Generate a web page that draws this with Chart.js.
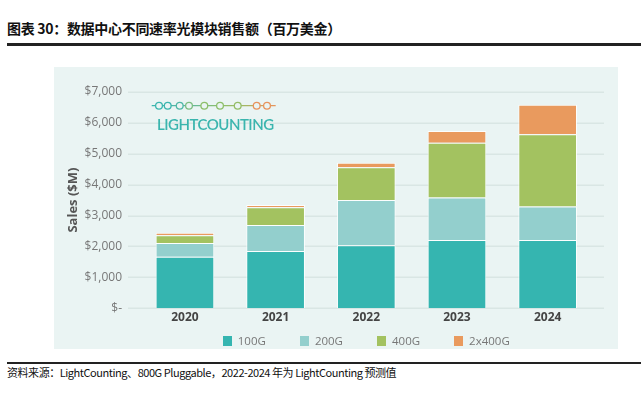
<!DOCTYPE html>
<html>
<head>
<meta charset="utf-8">
<script src="https://cdn.jsdelivr.net/npm/chart.js@4.4.0/dist/chart.umd.min.js"></script>
<style>
  html, body { margin: 0; padding: 0; background: #fff; }
  body { width: 641px; height: 396px; position: relative; overflow: hidden; font-family: "Noto Sans CJK SC", "Noto Sans", sans-serif; }
  .title { position: absolute; left: 7px; top: 18px; font-size: 14px; letter-spacing: -0.3px; font-weight: bold; color: #111; white-space: nowrap; }
  .rule-top { position: absolute; left: 7px; right: 0; top: 43px; height: 2.5px; background: #222; }
  .panel { position: absolute; left: 54px; top: 67px; width: 564px; height: 282px; background: #eaf4f3; }
  .panel canvas { position: absolute; left: 0; top: 0; }
  .logo { position: absolute; left: 97px; top: 30px; }
  .logo-text { position: absolute; left: 103px; top: 48px; font-family: Lato, sans-serif; font-size: 15px; font-weight: 600; color: #3ab5ae; letter-spacing: -0.5px; }
  .legend { position: absolute; left: 85.6px; top: 266px; width: 453.4px; display: flex; justify-content: center; font-family: "Open Sans", sans-serif; font-size: 11.5px; color: #777; }
  .legend span.item { display: flex; align-items: center; margin: 0 17px; }
  .legend i { display: inline-block; width: 9px; height: 10px; margin-right: 6px; }
  .rule-bottom { position: absolute; left: 7px; right: 0; top: 362px; height: 1.5px; background: #222; }
  .source { position: absolute; left: 7px; top: 364px; font-size: 11px; letter-spacing: -0.45px; color: #111; white-space: nowrap; }
</style>
</head>
<body>
<div class="title">图表 30：数据中心不同速率光模块销售额（百万美金）</div>
<div class="rule-top"></div>
<div class="panel">
  <canvas id="chart" width="564" height="282"></canvas>
  <svg class="logo" width="130" height="16" viewBox="0 0 130 16">
    <defs>
      <linearGradient id="lg" gradientUnits="userSpaceOnUse" x1="0" y1="0" x2="125" y2="0">
        <stop offset="0" stop-color="#3ab5ae"/>
        <stop offset="0.3" stop-color="#5eb8a0"/>
        <stop offset="0.55" stop-color="#8dbf6a"/>
        <stop offset="0.75" stop-color="#a4b865"/>
        <stop offset="1" stop-color="#e8935b"/>
      </linearGradient>
    </defs>
    <line x1="0.7" y1="8.7" x2="124.7" y2="8.7" stroke="url(#lg)" stroke-width="1.2"/>
    <g fill="#eaf4f3" stroke-width="1.3">
      <circle cx="8" cy="8.7" r="3.4" stroke="#3ab5ae"/>
      <circle cx="16.7" cy="8.7" r="3.4" stroke="#3ab5ae"/>
      <circle cx="28.7" cy="8.7" r="3.4" stroke="#4fb7a6"/>
      <circle cx="38" cy="8.7" r="3.4" stroke="#7dbd80"/>
      <circle cx="53.3" cy="8.7" r="3.4" stroke="#8dbf6a"/>
      <circle cx="69" cy="8.7" r="3.4" stroke="#8dbf6a"/>
      <circle cx="86.7" cy="8.7" r="3.4" stroke="#94bd66"/>
      <circle cx="105.7" cy="8.7" r="3.4" stroke="#e8935b"/>
      <circle cx="116" cy="8.7" r="3.4" stroke="#e8935b"/>
    </g>
  </svg>
  <div class="logo-text">LIGHTCOUNTING</div>
  <div class="legend" id="legend"></div>
</div>
<div class="rule-bottom"></div>
<div class="source">资料来源：LightCounting、800G Pluggable，2022-2024 年为 LightCounting 预测值</div>

<script>
(function() {
    'use strict';

    // ===== DATA =====
    const years = ['2020', '2021', '2022', '2023', '2024'];
    const seriesNames = ['100G', '200G', '400G', '2x400G'];
    const sales100G = [1670, 1850, 2040, 2210, 2210];
    const sales200G = [440, 840, 1460, 1370, 1080];
    const sales400G = [255, 580, 1060, 1770, 2340];
    const sales2x400G = [75, 70, 150, 380, 955];
    const yTicks = [0, 1000, 2000, 3000, 4000, 5000, 6000, 7000];

    const colors = ['#35b5b0', '#93cfcd', '#a3c260', '#e99a5e'];
    const seriesValues = [sales100G, sales200G, sales400G, sales2x400G];

    function formatTick(v) {
        if (v === 0) return '$-';
        return '$' + v.toLocaleString('en-US');
    }

    // gridlines run wider than the category band
    const wideGrid = {
        id: 'wideGrid',
        beforeDatasetsDraw(chart) {
            const ctx = chart.ctx;
            const y = chart.scales.y;
            ctx.save();
            ctx.strokeStyle = '#d9e6e4';
            ctx.lineWidth = 1.5;
            y.ticks.forEach(t => {
                const py = Math.round(y.getPixelForValue(t.value)) + 0.25;
                ctx.beginPath();
                ctx.moveTo(74, py);
                ctx.lineTo(550, py);
                ctx.stroke();
            });
            ctx.restore();
        }
    };

    const datasets = seriesNames.map((name, i) => ({
        label: name,
        data: seriesValues[i],
        backgroundColor: colors[i],
        borderColor: 'rgba(255,255,255,0.85)',
        borderWidth: 1,
        categoryPercentage: 1,
        barPercentage: 0.647
    }));

    const ctx = document.getElementById('chart').getContext('2d');
    new Chart(ctx, {
        type: 'bar',
        data: { labels: years, datasets: datasets },
        plugins: [wideGrid],
        options: {
            responsive: false,
            animation: false,
            layout: { padding: { top: 14.5, right: 25, bottom: 0, left: 0 } },
            plugins: {
                legend: { display: false },
                tooltip: { enabled: false }
            },
            scales: {
                x: {
                    stacked: true,
                    grid: { display: false, drawTicks: false },
                    border: { display: false },
                    ticks: {
                        padding: 2,
                        color: '#444',
                        font: { family: 'Open Sans', size: 12, weight: 'bold' }
                    },
                    afterFit(scale) { scale.height = 40.7; }
                },
                y: {
                    stacked: true,
                    min: 0,
                    max: 7000,
                    afterBuildTicks(scale) { scale.ticks = yTicks.map(v => ({ value: v })); },
                    grid: { display: false, drawTicks: false },
                    border: { display: false },
                    ticks: {
                        padding: 17.6,
                        color: '#777',
                        font: { family: 'Open Sans', size: 12 },
                        callback: formatTick
                    },
                    title: {
                        display: true,
                        text: 'Sales ($M)',
                        color: '#555',
                        padding: { top: 11 },
                        font: { family: 'Open Sans', size: 13, weight: 'bold' }
                    },
                    afterFit(scale) { scale.width = 85.6; }
                }
            }
        }
    });

    // ===== LEGEND =====
    const legendEl = document.getElementById('legend');
    legendEl.innerHTML = seriesNames.map((name, i) =>
        '<span class="item"><i style="background:' + colors[i] + '"></i>' + name + '</span>'
    ).join('');
})();
</script>
</body>
</html>
